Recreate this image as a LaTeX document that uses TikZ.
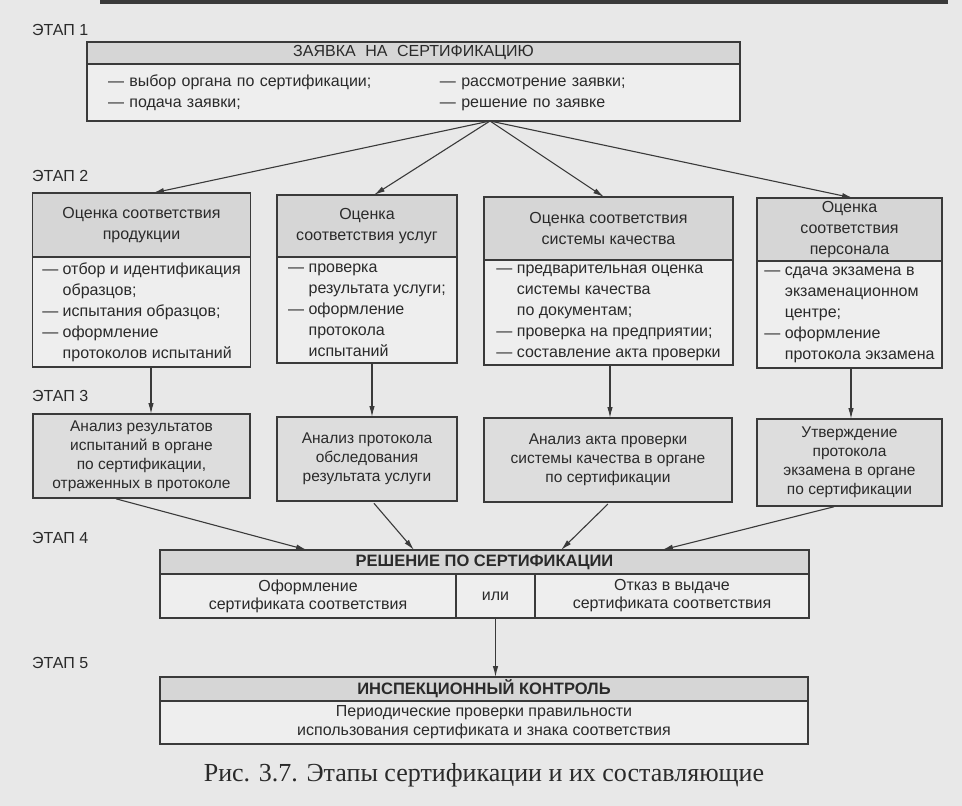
\documentclass[tikz,border=0pt]{standalone}
\usepackage{fontspec}
\setmainfont{Liberation Sans}
\newfontfamily\capfont{Liberation Serif}
\usetikzlibrary{arrows.meta,positioning,fit}
\definecolor{pageGray}{HTML}{E8E8E8}
\definecolor{bandGray}{HTML}{D6D6D6}
\definecolor{boxGray}{HTML}{DDDDDD}
\definecolor{bodyGray}{HTML}{EEEEEE}
\definecolor{lineGray}{HTML}{3A3A3A}
\definecolor{inkGray}{HTML}{2A2A2A}
\newcommand{\tire}{—\ }
\newcommand{\otst}{\hphantom{—\ }}

\begin{document}
\begin{tikzpicture}[x=1pt, y=-1pt, text=inkGray,
    hd/.style={draw=lineGray, line width=1.2pt, fill=bandGray, outer sep=0pt, inner sep=0pt, align=center, font=\fontsize{16}{21}\selectfont},
    bd/.style={draw=lineGray, line width=1.2pt, fill=bodyGray, outer sep=0pt, inner sep=0pt, align=left, font=\fontsize{16}{21}\selectfont},
    res/.style={draw=lineGray, line width=1.2pt, fill=boxGray, outer sep=0pt, inner sep=0pt, align=center, font=\fontsize{15.5}{19}\selectfont},
    stage/.style={anchor=west, inner sep=0pt, font=\fontsize{16}{16}\selectfont},
    arr/.style={-{Latex[length=11pt,width=5.5pt]}, line width=1.1pt, draw=lineGray}
  ]
    \fill[pageGray] (0,0) rectangle (962,806);
    \useasboundingbox (0,0) rectangle (962,806);
    \draw[lineGray, line width=4pt] (100,2) -- (948,2);

    \foreach \k/\y in {1/30,2/176,3/396,4/538,5/663}
      \node[stage] (s\k) at (32,\y) {ЭТАП \k};

    % stage 1
    \node[hd, minimum width=653, minimum height=22] (zH) at (413.5,53) {ЗАЯВКА\hspace{.6em}НА\hspace{.6em}СЕРТИФИКАЦИЮ};
    \node[bd, minimum width=653, minimum height=57, text width=611pt, inner xsep=21pt, below=0pt of zH] (zB)
      {\makebox[332pt][l]{\tire выбор органа по сертификации;}\tire рассмотрение заявки;\\
       \makebox[332pt][l]{\tire подача заявки;}\tire решение по заявке};

    % stage 2
    \node[hd, minimum width=218, minimum height=64] (pA) at (141.5,225) {Оценка соответствия\\продукции};
    \node[bd, minimum width=218, minimum height=110, below=0pt of pA] (pAb)
      {\tire отбор и идентификация\\\otst образцов;\\\tire испытания образцов;\\\tire оформление\\\otst протоколов испытаний};
    \node[hd, minimum width=180, minimum height=62] (pB) at (367,226) {Оценка\\соответствия услуг};
    \node[bd, minimum width=180, minimum height=106, below=0pt of pB] (pBb)
      {\tire проверка\\\otst результата услуги;\\\tire оформление\\\otst протокола\\\otst испытаний};
    \node[hd, minimum width=249, minimum height=63] (pC) at (608.5,228.5) {Оценка соответствия\\системы качества};
    \node[bd, minimum width=249, minimum height=105, below=0pt of pC] (pCb)
      {\tire предварительная оценка\\\otst системы качества\\\otst по документам;\\\tire проверка на предприятии;\\\tire составление акта проверки};
    \node[hd, minimum width=185, minimum height=63] (pD) at (849.5,229.5) {Оценка\\соответствия\\персонала};
    \node[bd, minimum width=185, minimum height=107, below=0pt of pD] (pDb)
      {\tire сдача экзамена в\\\otst экзаменационном\\\otst центре;\\\tire оформление\\\otst протокола экзамена};

    % stage 3
    \node[res, minimum width=217, minimum height=84] (aA) at (141.5,456) {Анализ результатов\\испытаний в органе\\по сертификации,\\отраженных в протоколе};
    \node[res, minimum width=180, minimum height=84] (aB) at (367,459) {Анализ протокола\\обследования\\результата услуги};
    \node[res, minimum width=248, minimum height=84] (aC) at (608,460) {Анализ акта проверки\\системы качества в органе\\по сертификации};
    \node[res, minimum width=185, minimum height=87] (aD) at (849.5,462.5) {Утверждение\\протокола\\экзамена в органе\\по сертификации};

    % stage 4
    \node[hd, font=\fontsize{16.5}{20}\selectfont\bfseries, minimum width=649, minimum height=24] (eH) at (484.5,562) {РЕШЕНИЕ ПО СЕРТИФИКАЦИИ};
    \node[bd, align=center, minimum width=296, minimum height=44, font=\fontsize{16}{18}\selectfont] (eL) at (308,596) {Оформление\\сертификата соответствия};
    \node[bd, align=center, minimum width=79, minimum height=44] (eM) at (495.5,596) {или};
    \node[bd, align=center, minimum width=274, minimum height=44, font=\fontsize{16}{18}\selectfont] (eR) at (672,596) {Отказ в выдаче\\сертификата соответствия};

    % stage 5
    \node[hd, font=\fontsize{16.5}{20}\selectfont\bfseries, minimum width=648, minimum height=24] (fH) at (484,689) {ИНСПЕКЦИОННЫЙ КОНТРОЛЬ};
    \node[bd, align=center, minimum width=648, minimum height=43, font=\fontsize{16}{19}\selectfont, below=0pt of fH] (fB)
      {Периодические проверки правильности\\использования сертификата и знака соответствия};

    \node[font=\capfont\fontsize{26}{30}\selectfont] (cap) at (484,775) {Рис. 3.7. Этапы сертификации и их составляющие};

    \draw[arr] ([xshift=76.5pt]zB.south) -- ([xshift=11.5pt]pA.north);
    \draw[arr] ([xshift=76.5pt]zB.south) -- ([xshift=7pt]pB.north);
    \draw[arr] ([xshift=76.5pt]zB.south) -- ([xshift=-4.5pt]pC.north);
    \draw[arr] ([xshift=76.5pt]zB.south) -- ([xshift=3.5pt]pD.north);

    \draw[arr] ([xshift=9.5pt]pAb.south) -- ([xshift=9.5pt]aA.north);
    \draw[arr] ([xshift=5pt]pBb.south) -- ([xshift=5pt]aB.north);
    \draw[arr] ([xshift=1.5pt]pCb.south) -- ([xshift=2pt]aC.north);
    \draw[arr] ([xshift=1.5pt]pDb.south) -- ([xshift=1.5pt]aD.north);

    \draw[arr, shorten <=3pt] ([xshift=-28.5pt]aA.south) -- ([xshift=-177.5pt]eH.north);
    \draw[arr, shorten <=3pt] ([xshift=5pt]aB.south) -- ([xshift=-70.5pt]eH.north);
    \draw[arr, shorten <=3pt] ([xshift=2pt]aC.south) -- ([xshift=76.5pt]eH.north);
    \draw[arr, shorten <=3pt] ([xshift=-12.5pt]aD.south) -- ([xshift=177.5pt]eH.north);

    \draw[arr] (eM.south) -- (eM.south |- fH.north);
  \end{tikzpicture}
\end{document}
